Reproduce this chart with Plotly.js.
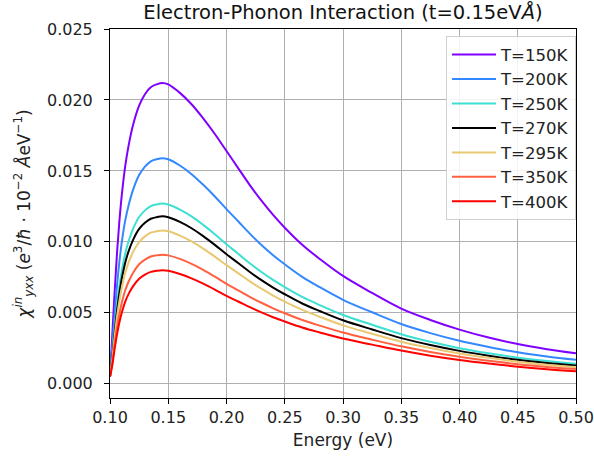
<!DOCTYPE html>
<html>
<head>
<meta charset="utf-8">
<script src="https://cdn.plot.ly/plotly-3.0.1.min.js"></script>
<style>html,body{margin:0;padding:0;background:#fff;}#chart{width:594px;height:458px;}</style>
</head>
<body>
<div id="chart"></div>
<script>
const energy = [0.100, 0.102, 0.104, 0.106, 0.108, 0.110, 0.113, 0.116, 0.120, 0.125, 0.130, 0.135, 0.140, 0.145, 0.150, 0.160, 0.170, 0.180, 0.190, 0.200, 0.210, 0.220, 0.230, 0.240, 0.250, 0.265, 0.280, 0.300, 0.325, 0.350, 0.375, 0.400, 0.425, 0.450, 0.475, 0.500];

const t150 = [0.0005, 0.0035, 0.0065, 0.0092, 0.0114, 0.0132, 0.0153, 0.0168, 0.0183, 0.0196, 0.0204, 0.0209, 0.0211, 0.0212, 0.0211, 0.0205, 0.0197, 0.0187, 0.0176, 0.0164, 0.0152, 0.0140, 0.0129, 0.0119, 0.0110, 0.0098, 0.0088, 0.0076, 0.0064, 0.0053, 0.0045, 0.00382, 0.00326, 0.00280, 0.00244, 0.00215];
const t200 = [0.0005, 0.00262, 0.00488, 0.00690, 0.00855, 0.00991, 0.01148, 0.01259, 0.01372, 0.01471, 0.01530, 0.01568, 0.01582, 0.0159, 0.01582, 0.01538, 0.01477, 0.01402, 0.01320, 0.01231, 0.01145, 0.01058, 0.00978, 0.00906, 0.00842, 0.00754, 0.00681, 0.00592, 0.00504, 0.00421, 0.00357, 0.00303, 0.00260, 0.00222, 0.00193, 0.00169];
const t250 = [0.0005, 0.0021, 0.0039, 0.00551, 0.00683, 0.00791, 0.00917, 0.01006, 0.01096, 0.01175, 0.01222, 0.01252, 0.01264, 0.0127, 0.01264, 0.01228, 0.0118, 0.0112, 0.01054, 0.00983, 0.00917, 0.00849, 0.00788, 0.00732, 0.00681, 0.00612, 0.00555, 0.00485, 0.00416, 0.00349, 0.00296, 0.00251, 0.00215, 0.00184, 0.00161, 0.00141];
const t270 = [0.0005, 0.00195, 0.00362, 0.00512, 0.00635, 0.00735, 0.00852, 0.00935, 0.01018, 0.01092, 0.01135, 0.01163, 0.01174, 0.0118, 0.01174, 0.01141, 0.01096, 0.01041, 0.00979, 0.00913, 0.00851, 0.00788, 0.0073, 0.00678, 0.00631, 0.00566, 0.00513, 0.00448, 0.00383, 0.00322, 0.00273, 0.00232, 0.00198, 0.00169, 0.00147, 0.00129];
const t295 = [0.0005, 0.00178, 0.00332, 0.00469, 0.00581, 0.00673, 0.0078, 0.00855, 0.00932, 0.00999, 0.01039, 0.01065, 0.01075, 0.0108, 0.01075, 0.01044, 0.01003, 0.00953, 0.00896, 0.00836, 0.0078, 0.00722, 0.0067, 0.00622, 0.00579, 0.00521, 0.00472, 0.00412, 0.00353, 0.00297, 0.00252, 0.00214, 0.00183, 0.00156, 0.00135, 0.00118];
const t350 = [0.0005, 0.0015, 0.00279, 0.00395, 0.0049, 0.00567, 0.00657, 0.00721, 0.00785, 0.00842, 0.00875, 0.00897, 0.00905, 0.0091, 0.00905, 0.0088, 0.00845, 0.00803, 0.00755, 0.00704, 0.00659, 0.00613, 0.00571, 0.00532, 0.00497, 0.0045, 0.0041, 0.00361, 0.00311, 0.00264, 0.00224, 0.0019, 0.00162, 0.00138, 0.00119, 0.00104];
const t400 = [0.0005, 0.00132, 0.00246, 0.00347, 0.0043, 0.00498, 0.00578, 0.00634, 0.0069, 0.0074, 0.0077, 0.00789, 0.00796, 0.008, 0.00796, 0.00774, 0.00743, 0.00706, 0.00664, 0.00619, 0.0058, 0.0054, 0.00503, 0.00469, 0.00439, 0.00397, 0.00362, 0.00319, 0.00276, 0.00234, 0.00198, 0.00168, 0.00143, 0.00121, 0.00103, 0.00089];

const seriesNames = ['T=150K', 'T=200K', 'T=250K', 'T=270K', 'T=295K', 'T=350K', 'T=400K'];
const seriesValues = [t150, t200, t250, t270, t295, t350, t400];
const seriesColors = ['#8000ff', '#3388ff', '#3de0d2', '#000000', '#e8c870', '#ff6040', '#ff0000'];

const xTicks = [0.10, 0.15, 0.20, 0.25, 0.30, 0.35, 0.40, 0.45, 0.50];
const yTicks = [0.000, 0.005, 0.010, 0.015, 0.020, 0.025];

const FONT = 'DejaVu Sans, sans-serif';

const traces = seriesNames.map((name, i) => ({
  x: energy,
  y: seriesValues[i],
  type: 'scatter',
  mode: 'lines',
  name: name,
  legendgroup: 'g' + i,
  line: {color: seriesColors[i], width: 2, shape: 'spline', smoothing: 1}
}));

const layout = {
  width: 594,
  height: 458,
  margin: {l: 110, r: 18, t: 29, b: 60},
  paper_bgcolor: '#ffffff',
  plot_bgcolor: '#ffffff',
  font: {family: FONT, size: 16, color: '#000'},
  title: {
    text: 'Electron-Phonon Interaction (t=0.15eV<i>Å</i>)',
    font: {family: FONT, size: 19.5, color: '#111'},
    x: 0.5774, xanchor: 'center', y: 0.974, yanchor: 'middle'
  },
  xaxis: {
    range: [0.1, 0.5],
    tickvals: xTicks,
    tickformat: '.2f',
    ticks: 'outside', ticklen: 5, tickwidth: 1, tickcolor: '#000',
    showline: true, linecolor: '#000', linewidth: 1, mirror: true,
    showgrid: true, gridcolor: '#b0b0b0', gridwidth: 1,
    zeroline: false,
    tickfont: {family: FONT, size: 16, color: '#222'},
    title: {text: 'Energy (eV)', font: {family: FONT, size: 17, color: '#222'}, standoff: 7}
  },
  yaxis: {
    range: [-0.001, 0.025],
    tickvals: yTicks,
    tickformat: '.3f',
    ticks: 'outside', ticklen: 5, tickwidth: 1, tickcolor: '#000',
    ticklabelstandoff: 8,
    showline: true, linecolor: '#000', linewidth: 1, mirror: true,
    showgrid: true, gridcolor: '#b0b0b0', gridwidth: 1,
    zeroline: false,
    tickfont: {family: FONT, size: 16, color: '#222'},
    title: {
      text: '<i>χ</i><sup><i>in</i></sup><sub><i>yxx</i></sub> (<i>e</i><sup>3</sup>/<i>ħ</i> · 10<sup>−2</sup> <i>Å</i>eV<sup>−1</sup>)',
      font: {family: FONT, size: 17, color: '#222'}, standoff: 12
    }
  },
  showlegend: true,
  legend: {
    x: 1.0, xanchor: 'right', y: 0.98, yanchor: 'top',
    bgcolor: 'rgba(255,255,255,0.85)', bordercolor: '#d0d0d0', borderwidth: 1,
    font: {family: FONT, size: 16.5, color: '#222'},
    tracegroupgap: 0,
    itemwidth: 44
  }
};

Plotly.newPlot('chart', traces, layout, {staticPlot: true, displayModeBar: false});
</script>
</body>
</html>
